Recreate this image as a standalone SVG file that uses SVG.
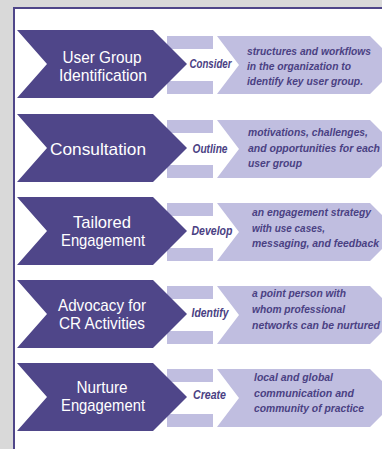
<svg xmlns="http://www.w3.org/2000/svg" width="382" height="449" viewBox="0 0 382 449">
<defs>
<style>
.dark{fill:#4f4689}
.light{fill:#c0bee0}
.gap{fill:#ffffff}
.lbl{font-family:"Liberation Sans",Arial,sans-serif;font-size:17px;fill:#ffffff;text-anchor:middle}
.verb{font-family:"Liberation Sans",Arial,sans-serif;font-size:13px;font-weight:bold;font-style:italic;fill:#4a4183;text-anchor:middle}
.desc{font-family:"Liberation Sans",Arial,sans-serif;font-size:11.5px;font-weight:bold;font-style:italic;fill:#4a4183}
</style>
<g id="rowshape">
<rect class="light" x="167" y="-28" width="46" height="58"/>
<rect class="gap" x="160" y="-15" width="60" height="32"/>
<polygon class="light" points="217,-28 370,-28 382,-16 382,18 370,30 217,30 239,1"/>
<polygon class="dark" points="17,-34 153,-34 187,0 153,34 17,34 47,0"/>
</g>
</defs>
<rect x="0" y="0" width="382" height="449" fill="#d9d9d9"/>
<rect x="14" y="8" width="368" height="441" fill="#ffffff"/>
<path d="M14,449 V8 H382" fill="none" stroke="#4f4689" stroke-width="2"/>

<g id="node1">
<use href="#rowshape" transform="translate(0,64)"/>
<text class="lbl" x="102" y="63" textLength="79" lengthAdjust="spacingAndGlyphs">User Group</text>
<text class="lbl" x="103" y="81" textLength="88" lengthAdjust="spacingAndGlyphs">Identification</text>
<text class="verb" x="210.5" y="68" textLength="42" lengthAdjust="spacingAndGlyphs">Consider</text>
<text class="desc" x="247" y="55" textLength="124" lengthAdjust="spacingAndGlyphs">structures and workflows</text>
<text class="desc" x="247" y="70" textLength="104" lengthAdjust="spacingAndGlyphs">in the organization to</text>
<text class="desc" x="247" y="85" textLength="116" lengthAdjust="spacingAndGlyphs">identify key user group.</text>
</g>

<g id="node2">
<use href="#rowshape" transform="translate(0,148)"/>
<text class="lbl" x="98" y="155" textLength="96" lengthAdjust="spacingAndGlyphs">Consultation</text>
<text class="verb" x="210" y="153" textLength="35" lengthAdjust="spacingAndGlyphs">Outline</text>
<text class="desc" x="248" y="136" textLength="120" lengthAdjust="spacingAndGlyphs">motivations, challenges,</text>
<text class="desc" x="248" y="152" textLength="132" lengthAdjust="spacingAndGlyphs">and opportunities for each</text>
<text class="desc" x="248" y="167" textLength="54" lengthAdjust="spacingAndGlyphs">user group</text>
</g>

<g id="node3">
<use href="#rowshape" transform="translate(0,231)"/>
<text class="lbl" x="102" y="228" textLength="58" lengthAdjust="spacingAndGlyphs">Tailored</text>
<text class="lbl" x="103" y="246" textLength="84" lengthAdjust="spacingAndGlyphs">Engagement</text>
<text class="verb" x="212" y="235" textLength="41" lengthAdjust="spacingAndGlyphs">Develop</text>
<text class="desc" x="252" y="216" textLength="119" lengthAdjust="spacingAndGlyphs">an engagement strategy</text>
<text class="desc" x="252" y="232" textLength="73" lengthAdjust="spacingAndGlyphs">with use cases,</text>
<text class="desc" x="252" y="247" textLength="127" lengthAdjust="spacingAndGlyphs">messaging, and feedback</text>
</g>

<g id="node4">
<use href="#rowshape" transform="translate(0,314)"/>
<text class="lbl" x="102" y="311" textLength="88" lengthAdjust="spacingAndGlyphs">Advocacy for</text>
<text class="lbl" x="102" y="329" textLength="86" lengthAdjust="spacingAndGlyphs">CR Activities</text>
<text class="verb" x="210" y="317" textLength="37" lengthAdjust="spacingAndGlyphs">Identify</text>
<text class="desc" x="252" y="297" textLength="94" lengthAdjust="spacingAndGlyphs">a point person with</text>
<text class="desc" x="252" y="313" textLength="93" lengthAdjust="spacingAndGlyphs">whom professional</text>
<text class="desc" x="252" y="329" textLength="128" lengthAdjust="spacingAndGlyphs">networks can be nurtured</text>
</g>

<g id="node5">
<use href="#rowshape" transform="translate(0,397)"/>
<text class="lbl" x="102" y="393" textLength="51" lengthAdjust="spacingAndGlyphs">Nurture</text>
<text class="lbl" x="103" y="411" textLength="84" lengthAdjust="spacingAndGlyphs">Engagement</text>
<text class="verb" x="209.5" y="399" textLength="33" lengthAdjust="spacingAndGlyphs">Create</text>
<text class="desc" x="254" y="381" textLength="79" lengthAdjust="spacingAndGlyphs">local and global</text>
<text class="desc" x="254" y="397" textLength="100" lengthAdjust="spacingAndGlyphs">communication and</text>
<text class="desc" x="254" y="412" textLength="110" lengthAdjust="spacingAndGlyphs">community of practice</text>
</g>

<g id="connectors"></g>
</svg>
